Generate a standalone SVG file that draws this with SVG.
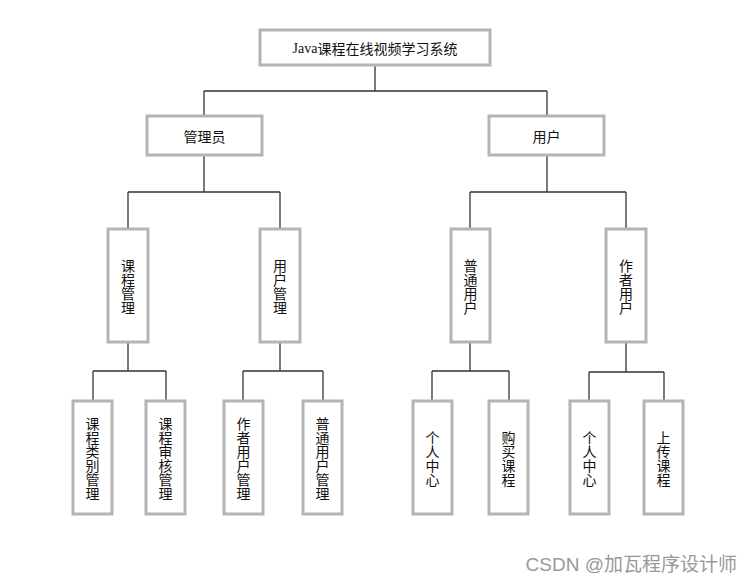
<svg xmlns="http://www.w3.org/2000/svg" width="753" height="584" viewBox="0 0 753 584">
<style>
.box{fill:#fff;stroke:#b4b4b4;stroke-width:3}
.t{font-family:"Noto Sans CJK SC","Liberation Sans",sans-serif;font-size:14px;fill:#111;text-anchor:middle;dominant-baseline:central}
.ln{fill:none;stroke:#333;stroke-width:1.3}
.wm{font-family:"Liberation Sans","Noto Sans CJK SC",sans-serif;font-size:19px;fill:#999;text-anchor:end}
</style>
<rect width="753" height="584" fill="#fff"/>
<g id="connectors" class="ln">
<path d="M375 65V91M204 91H547M204 91V116M547 91V116"/>
<path d="M204 155V192M128 192H280M128 192V229M280 192V229"/>
<path d="M547 155V192M470 192H626M470 192V229M626 192V229"/>
<path d="M128 342V371M93 371H166M93 371V401M166 371V401"/>
<path d="M280 342V371M243 371H323M243 371V401M323 371V401"/>
<path d="M470 342V371M432 371H509M432 371V401M509 371V401"/>
<path d="M626 342V372M589 372H664M589 372V401M664 372V401"/>
</g>
<g id="root"><rect class="box" x="260" y="30" width="230" height="35"/><text class="t" x="375" y="47.5"><tspan font-family="Liberation Serif">Java</tspan>课程在线视频学习系统</text></g>
<g id="admin"><rect class="box" x="147" y="116" width="115" height="39"/><text class="t" x="204.5" y="135.5">管理员</text></g>
<g id="user"><rect class="box" x="489" y="116" width="115" height="39"/><text class="t" x="546.5" y="135.5">用户</text></g>
<g id="course-mgmt"><rect class="box" x="108" y="229" width="40" height="113"/><text class="t"><tspan x="128" y="264.5">课</tspan><tspan x="128" y="278.5">程</tspan><tspan x="128" y="292.5">管</tspan><tspan x="128" y="306.5">理</tspan></text></g>
<g id="user-mgmt"><rect class="box" x="260" y="229" width="40" height="113"/><text class="t"><tspan x="280" y="264.5">用</tspan><tspan x="280" y="278.5">户</tspan><tspan x="280" y="292.5">管</tspan><tspan x="280" y="306.5">理</tspan></text></g>
<g id="normal-user"><rect class="box" x="451" y="229" width="39" height="113"/><text class="t"><tspan x="470.5" y="264.5">普</tspan><tspan x="470.5" y="278.5">通</tspan><tspan x="470.5" y="292.5">用</tspan><tspan x="470.5" y="306.5">户</tspan></text></g>
<g id="author-user"><rect class="box" x="606" y="229" width="40" height="113"/><text class="t"><tspan x="626" y="264.5">作</tspan><tspan x="626" y="278.5">者</tspan><tspan x="626" y="292.5">用</tspan><tspan x="626" y="306.5">户</tspan></text></g>
<g id="course-category"><rect class="box" x="73" y="401" width="39" height="113"/><text class="t"><tspan x="92.5" y="422.5">课</tspan><tspan x="92.5" y="436.5">程</tspan><tspan x="92.5" y="450.5">类</tspan><tspan x="92.5" y="464.5">别</tspan><tspan x="92.5" y="478.5">管</tspan><tspan x="92.5" y="492.5">理</tspan></text></g>
<g id="course-review"><rect class="box" x="146" y="401" width="39" height="113"/><text class="t"><tspan x="165.5" y="422.5">课</tspan><tspan x="165.5" y="436.5">程</tspan><tspan x="165.5" y="450.5">审</tspan><tspan x="165.5" y="464.5">核</tspan><tspan x="165.5" y="478.5">管</tspan><tspan x="165.5" y="492.5">理</tspan></text></g>
<g id="author-user-mgmt"><rect class="box" x="224" y="401" width="39" height="113"/><text class="t"><tspan x="243.5" y="422.5">作</tspan><tspan x="243.5" y="436.5">者</tspan><tspan x="243.5" y="450.5">用</tspan><tspan x="243.5" y="464.5">户</tspan><tspan x="243.5" y="478.5">管</tspan><tspan x="243.5" y="492.5">理</tspan></text></g>
<g id="normal-user-mgmt"><rect class="box" x="303" y="401" width="39" height="113"/><text class="t"><tspan x="322.5" y="422.5">普</tspan><tspan x="322.5" y="436.5">通</tspan><tspan x="322.5" y="450.5">用</tspan><tspan x="322.5" y="464.5">户</tspan><tspan x="322.5" y="478.5">管</tspan><tspan x="322.5" y="492.5">理</tspan></text></g>
<g id="personal-center-1"><rect class="box" x="413" y="401" width="39" height="113"/><text class="t"><tspan x="432.5" y="436.5">个</tspan><tspan x="432.5" y="450.5">人</tspan><tspan x="432.5" y="464.5">中</tspan><tspan x="432.5" y="478.5">心</tspan></text></g>
<g id="buy-course"><rect class="box" x="489" y="401" width="39" height="113"/><text class="t"><tspan x="508.5" y="436.5">购</tspan><tspan x="508.5" y="450.5">买</tspan><tspan x="508.5" y="464.5">课</tspan><tspan x="508.5" y="478.5">程</tspan></text></g>
<g id="personal-center-2"><rect class="box" x="570" y="401" width="39" height="113"/><text class="t"><tspan x="589.5" y="436.5">个</tspan><tspan x="589.5" y="450.5">人</tspan><tspan x="589.5" y="464.5">中</tspan><tspan x="589.5" y="478.5">心</tspan></text></g>
<g id="upload-course"><rect class="box" x="644" y="401" width="39" height="113"/><text class="t"><tspan x="663.5" y="436.5">上</tspan><tspan x="663.5" y="450.5">传</tspan><tspan x="663.5" y="464.5">课</tspan><tspan x="663.5" y="478.5">程</tspan></text></g>
<text class="wm" x="737" y="571">CSDN @加瓦程序设计师</text>
</svg>
